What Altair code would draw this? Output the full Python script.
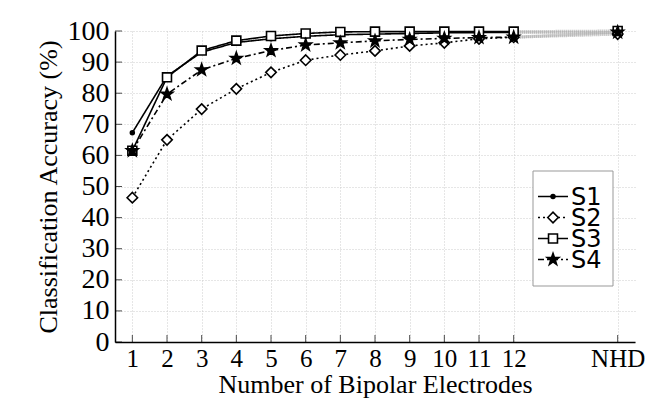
import altair as alt
import pandas as pd

electrodes = [1, 2, 3, 4, 5, 6, 7, 8, 9, 10, 11, 12]
nhd_pos = 15
s1 = [67.3, 85.5, 93.2, 96.3, 97.5, 98.3, 98.8, 99.0, 99.2, 99.4, 99.5, 99.5]
s2 = [46.4, 65.0, 74.9, 81.4, 86.7, 90.6, 92.3, 93.6, 95.2, 96.2, 97.5, 98.0]
s3 = [61.5, 85.1, 93.7, 96.9, 98.4, 99.2, 99.7, 99.8, 99.8, 99.8, 99.8, 99.8]
s4 = [61.5, 79.7, 87.5, 91.2, 93.7, 95.5, 96.2, 96.8, 97.3, 97.6, 97.9, 98.0]
nhd_vals = {"S1": 99.5, "S2": 99.0, "S3": 100.0, "S4": 99.6}
series_names = ["S1", "S2", "S3", "S4"]

rows = []
for name, vals in zip(series_names, [s1, s2, s3, s4]):
    for x, v in zip(electrodes, vals):
        rows.append({"series": name, "x": x, "acc": v})
main = pd.DataFrame(rows)
pts = pd.concat([main, pd.DataFrame([{"series": k, "x": nhd_pos, "acc": v} for k, v in nhd_vals.items()])])
conn = pd.DataFrame(
    [{"grp": k, "x": 12, "acc": vals[-1]} for k, vals in zip(series_names, [s1, s2, s3, s4])]
    + [{"grp": k, "x": nhd_pos, "acc": v} for k, v in nhd_vals.items()]
)
leg_df = pd.DataFrame({"series": series_names})

star = "M0,-1L0.235,-0.324L0.951,-0.309L0.38,0.124L0.588,0.809L0,0.4L-0.588,0.809L-0.38,0.124L-0.951,-0.309L-0.235,-0.324Z"
shapes = ["circle", "diamond", "square", star]
fills = ["black", "white", "white", "black"]
sizes = [15, 110, 80, 150]
dashes = [[1, 0], [2, 3], [1, 0], [6, 3, 2, 3]]

xscale = alt.Scale(domain=[0.5, 15.5], nice=False, zero=False)
yscale = alt.Scale(domain=[0, 100], nice=False)

xaxis = alt.Axis(
    values=electrodes + [nhd_pos],
    labelExpr="datum.value == 15 ? 'NHD' : datum.value",
    title="Number of Bipolar Electrodes",
    grid=True, tickSize=0, labelPadding=4, labelOverlap=False,
    labelFontSize=25, titleFontSize=26,
)
yaxis = alt.Axis(
    values=list(range(0, 101, 10)),
    title="Classification Accuracy (%)",
    grid=True, tickSize=0, labelPadding=6, labelOverlap=False,
    labelFontSize=28, titleFontSize=26,
)

X = alt.X("x:Q", scale=xscale, axis=xaxis)
Y = alt.Y("acc:Q", scale=yscale, axis=yaxis)
shape_enc = alt.Shape("series:N", scale=alt.Scale(domain=series_names, range=shapes), legend=None)
fill_enc = alt.Fill("series:N", scale=alt.Scale(domain=series_names, range=fills), legend=None)
size_enc = alt.Size("series:N", scale=alt.Scale(type="ordinal", domain=series_names, range=sizes), legend=None)
dash_enc = alt.StrokeDash("series:N", scale=alt.Scale(domain=series_names, range=dashes), legend=None)

lines = alt.Chart(main).mark_line(color="black", strokeWidth=1.6).encode(
    x=X, y=Y, strokeDash=dash_enc, detail="series:N",
)
connector = alt.Chart(conn).mark_line(color="#b0b0b0", strokeWidth=3, strokeDash=[1, 1]).encode(
    x=X, y=Y, detail="grp:N",
)
points = alt.Chart(pts).mark_point(stroke="black", strokeWidth=1.6, opacity=1, filled=True).encode(
    x=X, y=Y, shape=shape_enc, fill=fill_enc, size=size_enc,
)
ticks_x = alt.Chart(pd.DataFrame({"x": electrodes + [nhd_pos]})).mark_tick(
    color="black", orient="vertical", size=7, yOffset=-3.5, thickness=1).encode(
    x=X, y=alt.value(311))
ticks_y = alt.Chart(pd.DataFrame({"acc": list(range(0, 101, 10))})).mark_tick(
    color="black", orient="horizontal", size=7, xOffset=3.5, thickness=1).encode(
    y=Y, x=alt.value(0))

plot = alt.layer(lines, connector, points, ticks_x, ticks_y)

# legend (drawn with marks, rows placed by a point scale)
LY = alt.Y("series:N", scale=alt.Scale(type="point", domain=series_names, range=[155, 239]), axis=None)
leg_box = alt.Chart(pd.DataFrame({"k": [0]})).mark_rect(
    fill="white", stroke="#999999", strokeWidth=1).encode(
    x=alt.value(418), x2=alt.value(498), y=alt.value(140), y2=alt.value(255))
leg_lines = alt.Chart(leg_df).mark_rule(color="black", strokeWidth=1.6).encode(
    x=alt.value(423), x2=alt.value(453), y=LY, strokeDash=dash_enc)
leg_pts = alt.Chart(leg_df).mark_point(stroke="black", strokeWidth=1.6, opacity=1, filled=True).encode(
    x=alt.value(438), y=LY, shape=shape_enc, fill=fill_enc, size=size_enc)
leg_text = alt.Chart(leg_df).mark_text(
    align="left", baseline="middle", font="DejaVu Sans", fontSize=24, color="black", dy=1).encode(
    x=alt.value(456), y=LY, text="series:N")
legend = alt.layer(leg_box, leg_lines, leg_pts, leg_text)

chart = alt.layer(plot, legend).resolve_scale(y="independent").properties(
    width=520, height=311,
    autosize=alt.AutoSizeParams(type="none"),
    padding={"left": 107, "top": 23, "right": 10, "bottom": 60},
).configure_view(stroke=None).configure_axis(
    labelFont="Liberation Serif", titleFont="Liberation Serif",
    labelColor="black", titleColor="black",
    titleFontWeight="normal", domainColor="black", domainWidth=1.5,
    gridColor="#cccccc", gridDash=[1, 2], gridWidth=1,
).configure_axisY(titlePadding=6).configure_axisX(titlePadding=0)

chart.save("out.html", embed_options={"renderer": "svg", "actions": False})
